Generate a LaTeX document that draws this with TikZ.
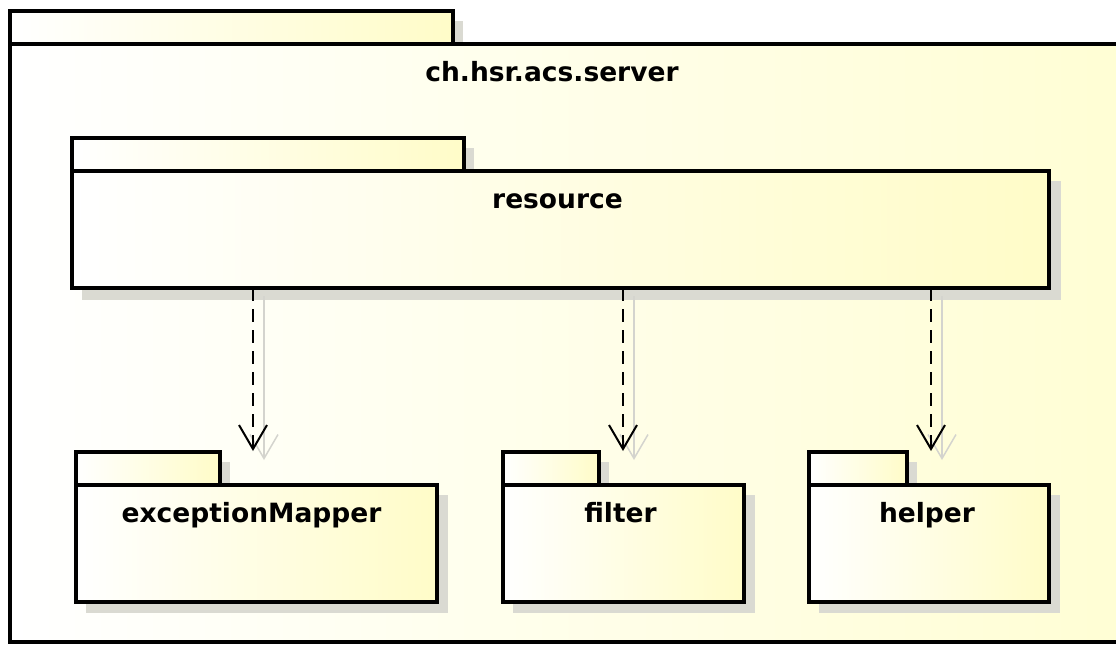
\documentclass[tikz,border=0pt]{standalone}
\usepackage{fontspec}
\setsansfont{DejaVu Sans}
\usetikzlibrary{arrows.meta,calc}
\definecolor{pkgyellow}{RGB}{255,252,200}
\definecolor{outeryellow}{RGB}{255,254,212}
\definecolor{shadowgray}{RGB}{218,218,210}
\definecolor{arrowshadow}{RGB}{212,212,206}
\tikzset{
  pkgshape/.style={draw=black, line width=4pt, left color=white, right color=pkgyellow,
    rectangle, inner sep=0pt, outer sep=0pt, anchor=north west},
  pkgshadow/.style={fill=shadowgray, draw=none},
  pkglabel/.style={font=\sffamily\bfseries\fontsize{26.5}{31}\selectfont, anchor=base, inner sep=0pt},
  dep/.style={draw=black, line width=2pt, dash pattern=on 13pt off 8pt,
    -{Straight Barb[length=24pt,width=28pt,line width=2pt]}},
  depshadow/.style={draw=arrowshadow, line width=1.5pt,
    -{Straight Barb[length=24pt,width=28pt,line width=1.5pt]}}
}
\begin{document}
\begin{tikzpicture}[x=1pt,y=-1pt]
\useasboundingbox (0,0) rectangle (1116,646);
\clip (0,0) rectangle (1116,646);
\fill[white] (0,0) rectangle (1116,646);

% outer package ch.hsr.acs.server
\fill[pkgshadow] (20,21) rectangle (463,44);
\node[pkgshape, minimum width=443pt, minimum height=33pt] (srvtab) at (10,11) {};
\node[pkgshape, right color=outeryellow, minimum width=1115pt, minimum height=598pt] (srv) at (10,44) {};
\node[pkglabel] (srvlabel) at (552,81) {ch.hsr.acs.server};

% resource
\fill[pkgshadow] (82,148) rectangle (474,171);
\fill[pkgshadow] (82,181) rectangle (1061,300);
\node[pkgshape, minimum width=392pt, minimum height=33pt] (restab) at (72,138) {};
\node[pkgshape, minimum width=977pt, minimum height=117pt] (res) at (72,171) {};
\node[pkglabel] (reslabel) at ($(res.north)+(-3,37)$) {resource};

% exceptionMapper
\fill[pkgshadow] (86,462) rectangle (230,485);
\fill[pkgshadow] (86,495) rectangle (448,613);
\node[pkgshape, minimum width=144pt, minimum height=33pt] (emtab) at (76,452) {};
\node[pkgshape, minimum width=361pt, minimum height=117pt] (em) at (76,485) {};
\node[pkglabel] (emlabel) at ($(em.north)+(-5,37)$) {exceptionMapper};

% filter
\fill[pkgshadow] (513,462) rectangle (609,485);
\fill[pkgshadow] (513,495) rectangle (755,613);
\node[pkgshape, minimum width=96pt, minimum height=33pt] (filtab) at (503,452) {};
\node[pkgshape, minimum width=241pt, minimum height=117pt] (fil) at (503,485) {};
\node[pkglabel] (fillabel) at ($(fil.north)+(-3,37)$) {filter};

% helper
\fill[pkgshadow] (819,462) rectangle (917,485);
\fill[pkgshadow] (819,495) rectangle (1060,613);
\node[pkgshape, minimum width=98pt, minimum height=33pt] (heltab) at (809,452) {};
\node[pkgshape, minimum width=240pt, minimum height=117pt] (hel) at (809,485) {};
\node[pkglabel] (hellabel) at ($(hel.north)+(-2,37)$) {helper};

% dependency arrows
\coordinate (t1) at (253,451);
\coordinate (t2) at (623,451);
\coordinate (t3) at (931,451);
\foreach \t in {t1,t2,t3}{
  \draw[depshadow] ($(res.south -| \t)+(11,8)$) -- ($(\t)+(11,9)$);
}
\foreach \t in {t1,t2,t3}{
  \draw[dep] (res.south -| \t) -- (\t);
}
\end{tikzpicture}
\end{document}
